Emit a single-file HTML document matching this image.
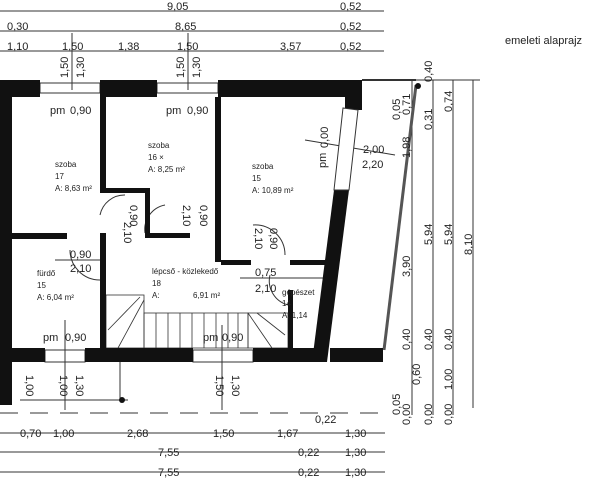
<!DOCTYPE html>
<html><head><meta charset="utf-8"><style>
html,body{margin:0;padding:0;background:#fff;width:600px;height:478px;overflow:hidden}
svg{display:block}
text{font-family:"Liberation Sans",sans-serif;fill:#222}
</style></head><body>
<svg width="600" height="478" viewBox="0 0 600 478" xmlns="http://www.w3.org/2000/svg">
<g stroke="#333" stroke-width="1" fill="none">
<line x1="0" y1="11" x2="384" y2="11"/>
<line x1="0" y1="31" x2="384" y2="31"/>
<line x1="0" y1="51" x2="384" y2="51"/>
<line x1="72" y1="33" x2="72" y2="90"/><line x1="188" y1="33" x2="188" y2="90"/>
<line x1="0" y1="433" x2="385" y2="433"/>
<line x1="0" y1="452" x2="385" y2="452"/>
<line x1="0" y1="472" x2="385" y2="472"/>
<line x1="0" y1="413" x2="385" y2="413" stroke-dasharray="18,12"/>
<line x1="412" y1="80" x2="412" y2="415"/>
<line x1="433" y1="80" x2="433" y2="415"/>
<line x1="453" y1="80" x2="453" y2="415"/>
<line x1="473" y1="80" x2="473" y2="408"/>
<line x1="405" y1="80" x2="480" y2="80"/>
<line x1="416" y1="85" x2="384" y2="350" stroke-width="3" stroke="#555"/>
<line x1="362" y1="80" x2="416" y2="80" stroke-width="2"/>
<rect x="40" y="83" width="60" height="10"/><rect x="157" y="83" width="61" height="10"/>
<rect x="45" y="350" width="40" height="12"/><rect x="193" y="350" width="60" height="12"/>
<path d="M100,215 A25,25 0 0 1 125,195"/><path d="M145,233 A25,25 0 0 1 165,205"/>
<path d="M253,225 A30,30 0 0 1 285,255"/><path d="M70,250 A30,30 0 0 0 100,280"/>
<path d="M270,275 A25,25 0 0 0 288,305"/>
<g stroke-width="0.8">
<rect x="106" y="295" width="38" height="53"/>
<rect x="144" y="313" width="104" height="35"/>
<rect x="248" y="313" width="40" height="35"/>
<line x1="156" y1="313" x2="156" y2="348"/><line x1="168" y1="313" x2="168" y2="348"/><line x1="180" y1="313" x2="180" y2="348"/><line x1="192" y1="313" x2="192" y2="348"/><line x1="204" y1="313" x2="204" y2="348"/><line x1="216" y1="313" x2="216" y2="348"/><line x1="228" y1="313" x2="228" y2="348"/><line x1="238" y1="313" x2="238" y2="348"/>
<line x1="144" y1="300" x2="118" y2="348"/><line x1="140" y1="297" x2="108" y2="330"/><line x1="248" y1="313" x2="272" y2="348"/><line x1="257" y1="313" x2="285" y2="335"/>
</g>
<line x1="120" y1="360" x2="120" y2="400"/><line x1="20" y1="400" x2="128" y2="400"/>
<line x1="65" y1="320" x2="65" y2="410"/><line x1="222" y1="325" x2="222" y2="410"/>
<line x1="55" y1="260" x2="105" y2="260"/><line x1="240" y1="278" x2="330" y2="278"/>
<line x1="305" y1="140" x2="395" y2="155"/>
</g>
<g fill="#111">
<rect x="0" y="80" width="40" height="17"/><rect x="100" y="80" width="57" height="17"/><rect x="218" y="80" width="127" height="17"/>
<rect x="345" y="80" width="17" height="30"/>
<rect x="0" y="80" width="12" height="325"/>
<rect x="100" y="97" width="6" height="93"/><rect x="100" y="188" width="50" height="5"/><rect x="145" y="188" width="5" height="48"/>
<rect x="215" y="97" width="6" height="165"/>
<rect x="12" y="233" width="55" height="6"/><rect x="100" y="233" width="6" height="117"/><rect x="145" y="233" width="45" height="5"/>
<rect x="221" y="260" width="30" height="5"/><rect x="290" y="260" width="40" height="5"/>
<rect x="288" y="290" width="5" height="60"/>
<polygon points="334,190 349,190 327,362 312,362"/>
<rect x="12" y="348" width="33" height="14"/><rect x="85" y="348" width="108" height="14"/><rect x="253" y="348" width="72" height="14"/>
<rect x="330" y="348" width="53" height="14"/>
<circle cx="122" cy="400" r="3"/><circle cx="418" cy="86" r="3"/>
</g>
<g stroke="#333" fill="#fff"><polygon points="343,108 358,110 349,190 334,190"/></g>
<g font-size="11">
<text x="167" y="10">9,05</text>
<text x="340" y="10">0,52</text>
<text x="7" y="30">0,30</text><text x="175" y="30">8,65</text><text x="340" y="30">0,52</text>
<text x="7" y="50">1,10</text><text x="62" y="50">1,50</text><text x="118" y="50">1,38</text><text x="177" y="50">1,50</text><text x="280" y="50">3,57</text><text x="340" y="50">0,52</text>
<text x="505" y="44" font-size="11">emeleti alaprajz</text>
<text x="50" y="114">pm</text><text x="70" y="114">0,90</text>
<text x="166" y="114">pm</text><text x="187" y="114">0,90</text>
<text x="43" y="341">pm</text><text x="65" y="341">0,90</text>
<text x="203" y="341">pm</text><text x="222" y="341">0,90</text>
<text x="70" y="258">0,90</text><text x="70" y="272">2,10</text>
<text x="255" y="276">0,75</text><text x="255" y="292">2,10</text>
<text x="363" y="153">2,00</text><text x="362" y="168">2,20</text>
<text x="20" y="437">0,70</text><text x="53" y="437">1,00</text><text x="127" y="437">2,68</text><text x="213" y="437">1,50</text><text x="277" y="437">1,67</text><text x="345" y="437">1,30</text>
<text x="315" y="423">0,22</text>
<text x="158" y="456">7,55</text><text x="298" y="456">0,22</text><text x="345" y="456">1,30</text>
<text x="158" y="476">7,55</text><text x="298" y="476">0,22</text><text x="345" y="476">1,30</text>
</g>
<g font-size="8">
<text x="55" y="167">szoba</text><text x="55" y="179">17</text><text x="55" y="191">A: 8,63 m²</text>
<text x="148" y="148">szoba</text><text x="148" y="160">16 ×</text><text x="148" y="172">A: 8,25 m²</text>
<text x="252" y="169">szoba</text><text x="252" y="181">15</text><text x="252" y="193">A: 10,89 m²</text>
<text x="37" y="276">fürdő</text><text x="37" y="288">15</text><text x="37" y="300">A: 6,04 m²</text>
<text x="152" y="274">lépcső - közlekedő</text><text x="152" y="286">18</text><text x="152" y="298">A:</text><text x="193" y="298">6,91 m²</text>
<text x="282" y="295">gépészet</text><text x="282" y="306">14</text><text x="282" y="318">A: 1,14</text>
</g>
<g font-size="11">
<text transform="translate(68,78) rotate(-90)">1,50</text><text transform="translate(84,78) rotate(-90)">1,30</text>
<text transform="translate(184,78) rotate(-90)">1,50</text><text transform="translate(200,78) rotate(-90)">1,30</text>
<text transform="translate(124,222) rotate(90)">2,10</text><text transform="translate(130,205) rotate(90)">0,90</text>
<text transform="translate(183,205) rotate(90)">2,10</text><text transform="translate(200,205) rotate(90)">0,90</text>
<text transform="translate(255,228) rotate(90)">2,10</text><text transform="translate(270,228) rotate(90)">0,90</text>
<text transform="translate(326,168) rotate(-90)">pm</text><text transform="translate(328,148) rotate(-90)">0,00</text>
<text transform="translate(26,375) rotate(90)">1,00</text><text transform="translate(60,375) rotate(90)">1,00</text><text transform="translate(76,375) rotate(90)">1,30</text>
<text transform="translate(216,375) rotate(90)">1,50</text><text transform="translate(232,375) rotate(90)">1,30</text>
<text transform="translate(410,158) rotate(-90)">1,98</text>
<text transform="translate(432,82) rotate(-90)">0,40</text>
<text transform="translate(410,115) rotate(-90)">0,71</text><text transform="translate(400,120) rotate(-90)">0,05</text>
<text transform="translate(432,130) rotate(-90)">0,31</text><text transform="translate(452,112) rotate(-90)">0,74</text>
<text transform="translate(432,245) rotate(-90)">5,94</text><text transform="translate(452,245) rotate(-90)">5,94</text>
<text transform="translate(472,255) rotate(-90)">8,10</text>
<text transform="translate(410,277) rotate(-90)">3,90</text>
<text transform="translate(410,350) rotate(-90)">0,40</text><text transform="translate(432,350) rotate(-90)">0,40</text><text transform="translate(452,350) rotate(-90)">0,40</text>
<text transform="translate(420,385) rotate(-90)">0,60</text><text transform="translate(452,390) rotate(-90)">1,00</text>
<text transform="translate(400,415) rotate(-90)">0,05</text><text transform="translate(410,425) rotate(-90)">0,00</text>
<text transform="translate(432,425) rotate(-90)">0,00</text><text transform="translate(452,425) rotate(-90)">0,00</text>
</g>
</svg>
</body></html>
